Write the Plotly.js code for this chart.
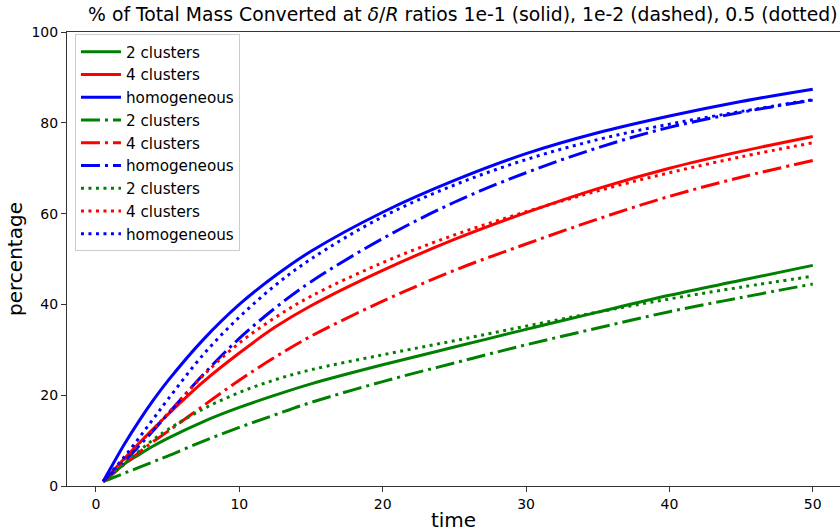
<!DOCTYPE html>
<html>
<head>
<meta charset="utf-8">
<script src="https://cdn.plot.ly/plotly-3.0.1.min.js"></script>
<style>html,body{margin:0;padding:0;background:#fff;}</style>
</head>
<body>
<div id="chart" style="width:840px;height:532px;"></div>
<script>
const time = [0.5, 1, 2, 3, 4, 5, 7.5, 10, 12.5, 15, 20, 25, 30, 35, 40, 45, 50];

// solid: delta/R = 1e-1
const solid2 = [1, 2.2, 4.9, 6.9, 8.8, 10.5, 14.2, 17.3, 20, 22.5, 26.7, 30.6, 34.5, 38.3, 42, 45.3, 48.6];
const solid4 = [1, 2.7, 6.1, 9.4, 12.6, 15.7, 23, 29.3, 35, 39.7, 47.5, 54.3, 60.2, 65.5, 70, 73.7, 77];
const solidH = [1, 3.8, 9.3, 14.3, 18.9, 23.1, 32.3, 40, 46.3, 51.7, 60.3, 67.3, 73.2, 77.8, 81.5, 84.7, 87.4];
// dashed: delta/R = 1e-2
const dash2 = [1, 1.6, 2.85, 4.1, 5.35, 6.6, 9.9, 12.9, 15.7, 18.4, 23, 27.1, 31.1, 34.8, 38.4, 41.5, 44.5];
const dash4 = [1, 2.3, 4.8, 7.4, 9.8, 12, 17.7, 23.3, 28.4, 33, 40.7, 47.5, 53.3, 58.8, 63.8, 68, 71.7];
const dashH = [1, 2.5, 5.5, 8.8, 12.2, 15.8, 24.6, 32.5, 39.2, 45, 54.5, 62.5, 69, 74.5, 79, 82.3, 85];
// dotted: delta/R = 0.5
const dot2 = [1, 2.3, 5, 7.7, 10.2, 12.4, 17, 20.6, 23.4, 25.6, 28.9, 32, 35.2, 38.3, 41.2, 43.8, 46.2];
const dot4 = [1, 2.6, 6, 9.4, 12.5, 15.9, 24.4, 31.5, 37.1, 41.8, 49.2, 55.3, 60.4, 65, 69, 72.5, 75.6];
const dotH = [1, 2.8, 6.5, 10.6, 14.8, 19, 29, 37.2, 44.2, 50, 59.3, 66.3, 71.9, 76.3, 79.7, 82.5, 85.1];

const names = ['2 clusters', '4 clusters', 'homogeneous'];
const colors = ['green', 'red', 'blue'];
const groups = [
  {data: [solid2, solid4, solidH], dash: 'solid'},
  {data: [dash2, dash4, dashH], dash: '19px,5px,3px,5px'},
  {data: [dot2, dot4, dotH], dash: '3px,4.5px'}
];

const traces = [];
groups.forEach(g => {
  g.data.forEach((ys, i) => {
    traces.push({
      x: time, y: ys, type: 'scatter', mode: 'lines', name: names[i],
      line: {color: colors[i], width: 3, dash: g.dash, shape: 'spline', smoothing: 1}
    });
  });
});

const layout = {
  width: 840, height: 532,
  margin: {l: 67, r: 0, t: 32, b: 46, pad: 0},
  paper_bgcolor: '#fff', plot_bgcolor: '#fff',
  showlegend: true,
  font: {family: 'DejaVu Sans', color: '#000'},
  title: {
    text: '% of Total Mass Converted at <i>δ</i>/<i>R</i> ratios 1e-1 (solid), 1e-2 (dashed), 0.5 (dotted)',
    font: {family: 'DejaVu Sans', size: 18.8, color: '#000'},
    x: 0.512, xref: 'paper', xanchor: 'center',
    y: 1, yref: 'container', yanchor: 'top', pad: {t: 8}
  },
  xaxis: {
    range: [-2.02, 51.9], tickvals: [0, 10, 20, 30, 40, 50],
    showgrid: false, zeroline: false,
    showline: true, linecolor: '#333', linewidth: 1, mirror: true,
    ticks: 'outside', ticklen: 5, tickcolor: '#333', tickwidth: 1,
    tickfont: {family: 'DejaVu Sans', size: 14, color: '#000'},
    title: {text: 'time', font: {family: 'DejaVu Sans', size: 20, color: '#000'}, standoff: 4}
  },
  yaxis: {
    range: [0, 100], tickvals: [0, 20, 40, 60, 80, 100],
    showgrid: false, zeroline: false,
    showline: true, linecolor: '#333', linewidth: 1,
    ticks: 'outside', ticklen: 5, tickcolor: '#333', tickwidth: 1,
    tickfont: {family: 'DejaVu Sans', size: 14, color: '#000'},
    title: {text: 'percentage', font: {family: 'DejaVu Sans', size: 20, color: '#000'}, standoff: 3}
  },
  legend: {
    x: 0.0103, y: 0.995, xanchor: 'left', yanchor: 'top',
    bgcolor: 'rgba(255,255,255,0.85)', bordercolor: '#ccc', borderwidth: 1,
    font: {family: 'DejaVu Sans', size: 15.2, color: '#000'},
    tracegroupgap: 0, itemwidth: 40
  }
};

Plotly.newPlot('chart', traces, layout, {displayModeBar: false, staticPlot: true});
</script>
</body>
</html>
